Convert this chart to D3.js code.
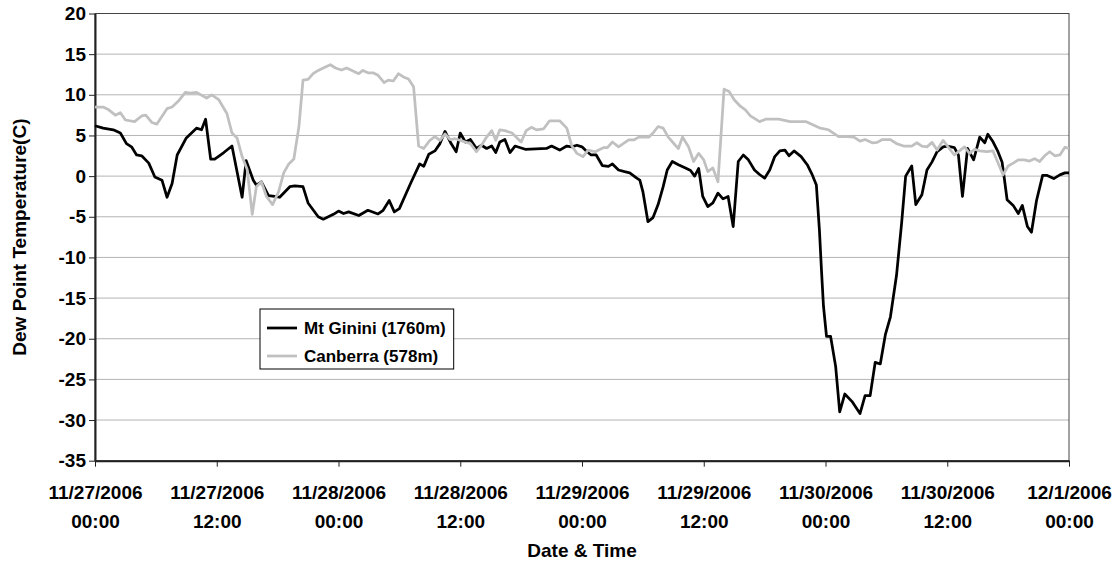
<!DOCTYPE html>
<html>
<head>
<meta charset="utf-8">
<script src="https://cdn.jsdelivr.net/npm/d3@7"></script>
<style>
  body { margin: 0; background: #fff; }
  text { font-family: "Liberation Sans", Arial, sans-serif; font-weight: bold; fill: #000; }
</style>
</head>
<body>
<script>
// hours after 11/27/2006 00:00 and dew point (C)
var giniHours = [0,0.8,1.8,2.5,3.1,3.6,4.1,4.6,5.3,5.9,6.6,7.1,7.6,8.1,9,10,10.5,10.9,11.4,11.8,12.7,13.5,14.5,14.9,15.6,15.9,16.4,17.1,17.7,18.2,19.2,19.7,20.5,21,22,22.5,23,23.5,24,24.5,25,26,26.9,27.9,28.4,29,29.5,30,31.1,32,32.4,32.9,33.5,34,34.5,35.1,35.6,36,36.5,37,37.6,38.1,38.6,39.1,39.5,39.9,40.4,40.9,41.4,42.4,44.5,45,45.8,46.5,47,47.5,48,48.5,48.9,49.4,50,50.6,51,51.6,52.2,52.7,53.4,53.7,54,54.5,55,55.5,56,56.4,56.9,57.5,58.2,58.7,59.1,59.5,59.9,60.4,60.9,61.4,61.9,62.4,62.9,63.4,63.9,64.4,65,65.5,66,66.5,67,67.5,68,68.4,68.9,69.6,70.2,70.7,71.1,71.4,71.6,71.8,72.1,72.5,73,73.4,73.9,74.6,75.4,75.9,76.4,76.9,77.4,77.9,78.4,79,79.5,79.9,80.5,80.9,81.5,82,82.5,83,83.6,84,84.7,85.1,85.5,86,86.6,87.2,87.7,88,88.5,89,89.4,89.6,89.9,90.5,91,91.4,91.9,92.3,92.8,93.4,93.8,94.5,95.1,95.6,96];
var giniTemps = [6.2,5.9,5.7,5.3,4.0,3.6,2.6,2.5,1.6,-0.1,-0.5,-2.6,-0.9,2.6,4.7,5.9,5.7,7.0,2.1,2.1,2.9,3.7,-2.6,1.9,-0.5,-1.1,-0.7,-2.4,-2.5,-2.6,-1.3,-1.2,-1.3,-3.3,-5.0,-5.3,-5.0,-4.7,-4.3,-4.6,-4.4,-4.85,-4.2,-4.65,-4.2,-3.0,-4.4,-4.0,-0.9,1.5,1.2,2.7,3.1,4.0,5.5,4.0,3.0,5.3,4.2,4.5,3.4,3.8,3.4,3.7,2.9,4.2,4.5,2.9,3.7,3.3,3.4,3.7,3.2,3.7,3.6,3.8,3.6,3.0,2.6,2.6,1.3,1.2,1.5,0.75,0.55,0.4,-0.25,-0.5,-1.9,-5.6,-5.1,-3.5,-1.3,0.75,1.8,1.4,1.0,0.7,0.0,0.95,-2.5,-3.75,-3.3,-2.1,-2.8,-2.5,-6.2,1.8,2.6,2.0,0.75,0.2,-0.25,0.75,2.4,3.1,3.2,2.5,3.1,2.4,1.4,0.15,-1.1,-6.6,-11.5,-16.0,-19.7,-19.7,-23.4,-29.0,-26.8,-27.7,-29.2,-27.0,-27.0,-22.9,-23.1,-19.5,-17.3,-12.2,-5.8,0.0,1.25,-3.5,-2.3,0.75,1.75,3.0,3.6,3.7,3.5,2.6,-2.5,3.4,2.0,4.8,4.1,5.15,4.25,3.0,1.75,-0.05,-2.9,-3.6,-4.6,-3.6,-6.2,-6.9,-3.0,0.1,0.1,-0.3,0.15,0.4,0.4];

var canberraHours = [0,0.8,1.3,2,2.5,3,3.9,4.6,5,5.6,6.1,7.1,7.6,8.2,8.9,9.4,10,11,11.5,12.2,13,13.5,14,14.5,15,15.5,15.9,16.4,16.9,17.5,18.1,18.6,19.1,19.6,20.1,20.5,21,21.5,22,22.5,23.2,23.7,24.3,24.8,26,26.4,26.9,27.4,27.9,28.5,28.9,29.4,29.9,30.4,30.9,31.4,31.9,32.4,33,33.5,34,34.5,35,35.5,36,36.5,37,37.6,38.2,38.6,39.1,39.5,39.9,40.4,41.1,42,42.5,43,43.5,44.2,44.8,45.8,46.5,47,47.5,48.1,48.6,49.3,50.1,50.5,51,51.6,52.6,53.1,53.6,54.6,55,55.5,56,56.5,57.2,57.5,57.9,58.5,59,59.5,60,60.4,60.9,61.4,62,62.5,63,63.6,64.1,64.6,65.5,66.1,67.4,68.5,70.1,70.8,71.5,72.3,73.3,73.8,74.8,75.4,75.9,76.6,77.1,77.6,78.4,79,79.7,80.5,81,81.5,82,82.5,83,83.6,84.2,84.7,85.3,85.7,86.2,86.7,87.2,87.9,88.5,89,89.5,90,90.5,91,91.6,92.1,92.6,93.1,93.6,94.1,94.6,95.1,95.6,96];
var canberraTemps = [8.5,8.5,8.2,7.5,7.8,6.9,6.7,7.4,7.5,6.6,6.4,8.3,8.5,9.2,10.3,10.2,10.3,9.6,10.0,9.4,7.7,5.3,4.7,2.4,0.8,-4.7,-1.3,-0.7,-2.5,-3.5,-1.9,0.4,1.5,2.1,6.1,11.8,11.9,12.6,13.0,13.3,13.7,13.3,13.05,13.3,12.6,13.0,12.7,12.7,12.4,11.5,11.8,11.7,12.6,12.2,11.95,11.0,3.7,3.4,4.4,4.85,4.4,5.2,4.5,4.6,4.4,4.2,4.0,3.0,4.0,4.8,5.6,4.4,5.7,5.6,5.3,4.2,5.6,6.0,5.7,5.8,6.8,6.8,5.9,3.7,2.8,2.4,3.2,3.0,3.5,3.5,4.2,3.6,4.45,4.45,4.8,4.8,5.3,6.1,5.9,4.8,3.8,3.4,4.8,3.6,1.8,2.8,2.0,0.55,1.0,-0.7,10.7,10.4,9.4,8.6,8.15,7.4,6.7,7.0,7.0,6.7,6.7,6.3,5.9,5.7,4.85,4.9,4.8,4.3,4.5,4.1,4.15,4.5,4.5,4.0,3.7,3.7,4.1,3.7,3.6,4.15,3.2,4.4,3.4,2.6,3.2,3.6,2.8,3.3,3.1,3.0,3.1,1.65,0.15,1.25,1.6,2.0,2.0,1.85,2.15,1.8,2.5,3.0,2.5,2.6,3.55,3.4];

var yTicks = [20, 15, 10, 5, 0, -5, -10, -15, -20, -25, -30, -35];
var seriesNames = ["Mt Ginini (1760m)", "Canberra (578m)"];
var seriesColors = ["#000000", "#c0c0c0"];

var start = new Date(2006, 10, 27, 0, 0);
var end = new Date(2006, 11, 1, 0, 0);

function toPoints(hours, temps) {
    return hours.map(function(h, i){
        return { date: d3.timeMinute.offset(start, Math.round(h * 60)), temp: temps[i] };
    });
}
var series = [toPoints(giniHours, giniTemps), toPoints(canberraHours, canberraTemps)];

//plot area edges
var plotLeft = 95, plotRight = 1069, plotTop = 13.5, plotBottom = 460.7;

var svg = d3.select("body")
    .append("svg")
    .attr("width", 1119)
    .attr("height", 565);

var x = d3.scaleTime()
    .domain([start, end])
    .range([plotLeft, plotRight]);

var y = d3.scaleLinear()
    .domain([-35, 20])
    .range([plotBottom, plotTop]);

//gridlines
svg.append("g")
    .selectAll("line")
    .data(yTicks.slice(1, -1))
    .enter()
    .append("line")
    .attr("x1", plotLeft)
    .attr("x2", plotRight)
    .attr("y1", function(d){ return y(d); })
    .attr("y2", function(d){ return y(d); })
    .style("stroke", "#b4b4b4")
    .style("stroke-width", 1);

//plot border
svg.append("rect")
    .attr("x", plotLeft)
    .attr("y", y(20))
    .attr("width", plotRight - plotLeft)
    .attr("height", y(-35) - y(20))
    .style("fill", "none")
    .style("stroke", "#444")
    .style("stroke-width", 1);

//axes
var yAxis = d3.axisLeft(y)
    .tickValues(yTicks)
    .tickSize(6)
    .tickSizeOuter(0)
    .tickFormat(function(d){ return String(d); });

var yg = svg.append("g")
    .attr("transform", "translate(" + plotLeft + ",0)")
    .call(yAxis);
yg.select(".domain").style("stroke", "#222").style("stroke-width", 2);
yg.selectAll(".tick line").style("stroke", "#222");
yg.selectAll(".tick text")
    .attr("x", -9)
    .style("font-size", "19px")
    .style("font-family", "'Liberation Sans', Arial, sans-serif");

var xAxis = d3.axisBottom(x)
    .ticks(d3.timeHour.every(12))
    .tickSize(6)
    .tickSizeOuter(0)
    .tickFormat("");

var xg = svg.append("g")
    .attr("transform", "translate(0," + plotBottom + ")")
    .call(xAxis);
xg.select(".domain").style("stroke", "#222").style("stroke-width", 2);
xg.selectAll(".tick line").style("stroke", "#222");

var fmtDate = d3.timeFormat("%-m/%-d/%Y");
var fmtTime = d3.timeFormat("%H:%M");
var xLabels = xg.selectAll(".tick")
    .append("text")
    .attr("text-anchor", "middle")
    .style("font-size", "19px");
xLabels.append("tspan").attr("x", 0).attr("y", 38).text(function(d){ return fmtDate(d); });
xLabels.append("tspan").attr("x", 0).attr("y", 67).text(function(d){ return fmtTime(d); });

//titles
svg.append("text")
    .attr("text-anchor", "middle")
    .attr("transform", "translate(26," + ((plotTop + plotBottom) / 2) + ") rotate(-90)")
    .style("font-size", "19px")
    .text("Dew Point Temperature(C)");

svg.append("text")
    .attr("text-anchor", "middle")
    .attr("x", (plotLeft + plotRight) / 2)
    .attr("y", 557)
    .style("font-size", "19px")
    .text("Date & Time");

//lines
var line = d3.line()
    .x(function(d){ return x(d.date); })
    .y(function(d){ return y(d.temp); });

svg.selectAll(".series")
    .data(series)
    .enter()
    .append("path")
    .attr("class", "series")
    .attr("d", line)
    .style("fill", "none")
    .style("stroke", function(d, i){ return seriesColors[i]; })
    .style("stroke-width", 2.75)
    .style("stroke-linejoin", "round");

//legend
var legend = svg.append("g").attr("transform", "translate(260,309)");
var legendBox = legend.append("rect")
    .attr("height", 60)
    .style("fill", "#fff")
    .style("stroke", "#000")
    .style("stroke-width", 1);
var items = legend.selectAll(".item")
    .data(seriesNames)
    .enter()
    .append("g")
    .attr("class", "item")
    .attr("transform", function(d, i){ return "translate(0," + (19 + i * 28) + ")"; });
items.append("line")
    .attr("x1", 7).attr("x2", 37)
    .style("stroke", function(d, i){ return seriesColors[i]; })
    .style("stroke-width", 2.75);
items.append("text")
    .attr("x", 44)
    .attr("dy", "0.35em")
    .style("font-size", "17px")
    .text(function(d){ return d; });
var maxW = d3.max(items.selectAll("text").nodes(), function(n){ return n.getComputedTextLength(); });
legendBox.attr("width", 44 + maxW + 8);
</script>
</body>
</html>
